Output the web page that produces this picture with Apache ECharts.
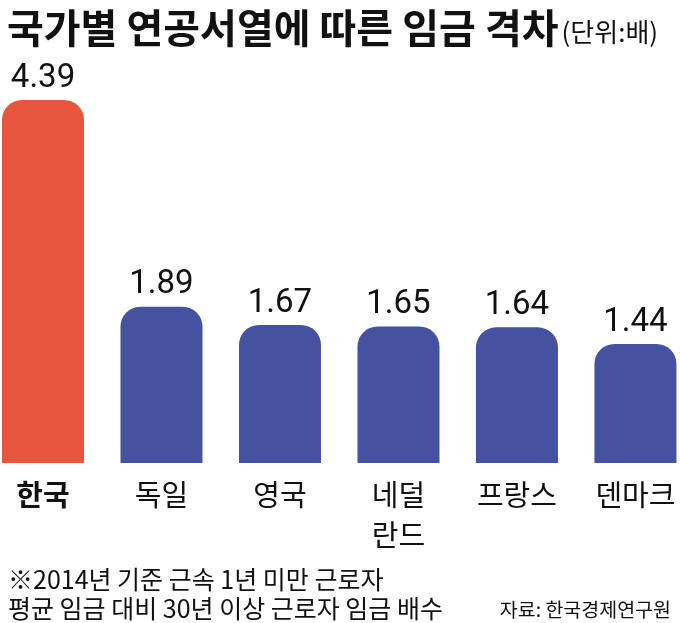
<!DOCTYPE html>
<html><head><meta charset="utf-8">
<script src="https://cdn.jsdelivr.net/npm/echarts@6/dist/echarts.min.js"></script>
<style>html,body{margin:0;padding:0;background:#fff}#c{width:680px;height:623px}</style>
</head><body><div id="c"></div>
<script>
const categories = ['한국', '독일', '영국', '네덜\n란드', '프랑스', '덴마크'];
const values = [4.39, 1.89, 1.67, 1.65, 1.64, 1.44];
const barColors = ['#E8553F', '#4552A0', '#4552A0', '#4552A0', '#4552A0', '#4552A0'];
const titleMain = '국가별 연공서열에 따른 임금 격차';
const titleUnit = '(단위:배)';
const note1 = '※2014년 기준 근속 1년 미만 근로자';
const note2 = '평균 임금 대비 30년 이상 근로자 임금 배수';
const source = '자료: 한국경제연구원';

const font = '"Noto Sans CJK KR", "Noto Sans", sans-serif';
const positions = categories.map((c, i) => i);
const chart = echarts.init(document.getElementById('c'));
chart.setOption({
  backgroundColor: '#fff',
  animation: false,
  title: [
    { text: '{a|' + titleMain + '}{b|' + titleUnit + '}', left: 2, top: 0,
      textStyle: { rich: {
        a: { fontFamily: font, fontSize: 40, fontWeight: 'bold', color: '#111', lineHeight: 46 },
        b: { fontFamily: font, fontSize: 26, fontWeight: 'normal', color: '#111', lineHeight: 46, padding: [8, 0, 0, 3] }
      } } },
    { text: note1, left: 3, top: 562, textStyle: { fontFamily: font, fontSize: 25, fontWeight: 'normal', color: '#111' } },
    { text: note2, left: 3, top: 591, textStyle: { fontFamily: font, fontSize: 25, fontWeight: 'normal', color: '#111' } },
    { text: source, right: 4, top: 595, textStyle: { fontFamily: font, fontSize: 19.5, fontWeight: 'normal', color: '#111' } }
  ],
  grid: { left: 0, right: 0, top: 49.5, bottom: 160, containLabel: false },
  xAxis: {
    type: 'value', min: -0.363, max: 5.376,
    splitLine: { show: false }, axisLine: { show: false }, axisTick: { show: false },
    axisLabel: {
      customValues: positions, showMinLabel: true, showMaxLabel: true, hideOverlap: false,
      margin: 12, color: '#111', fontFamily: font, fontSize: 29, lineHeight: 40,
      formatter: (v) => v === 0 ? '{b|' + categories[v] + '}' : categories[v],
      rich: { b: { fontFamily: font, fontSize: 29, fontWeight: 'bold', color: '#111', lineHeight: 40 } }
    }
  },
  yAxis: { type: 'value', min: 0, max: 5, show: false, splitLine: { show: false } },
  series: [{
    type: 'bar', barWidth: 82,
    data: values.map((v, i) => ({ value: [positions[i], v], itemStyle: { color: barColors[i] } })),
    itemStyle: { borderRadius: [20, 20, 0, 0] },
    label: { show: true, position: 'top', distance: 5, color: '#111', fontFamily: 'Roboto, sans-serif', fontSize: 33,
      formatter: p => p.value[1].toFixed(2) }
  }]
});
</script></body></html>
